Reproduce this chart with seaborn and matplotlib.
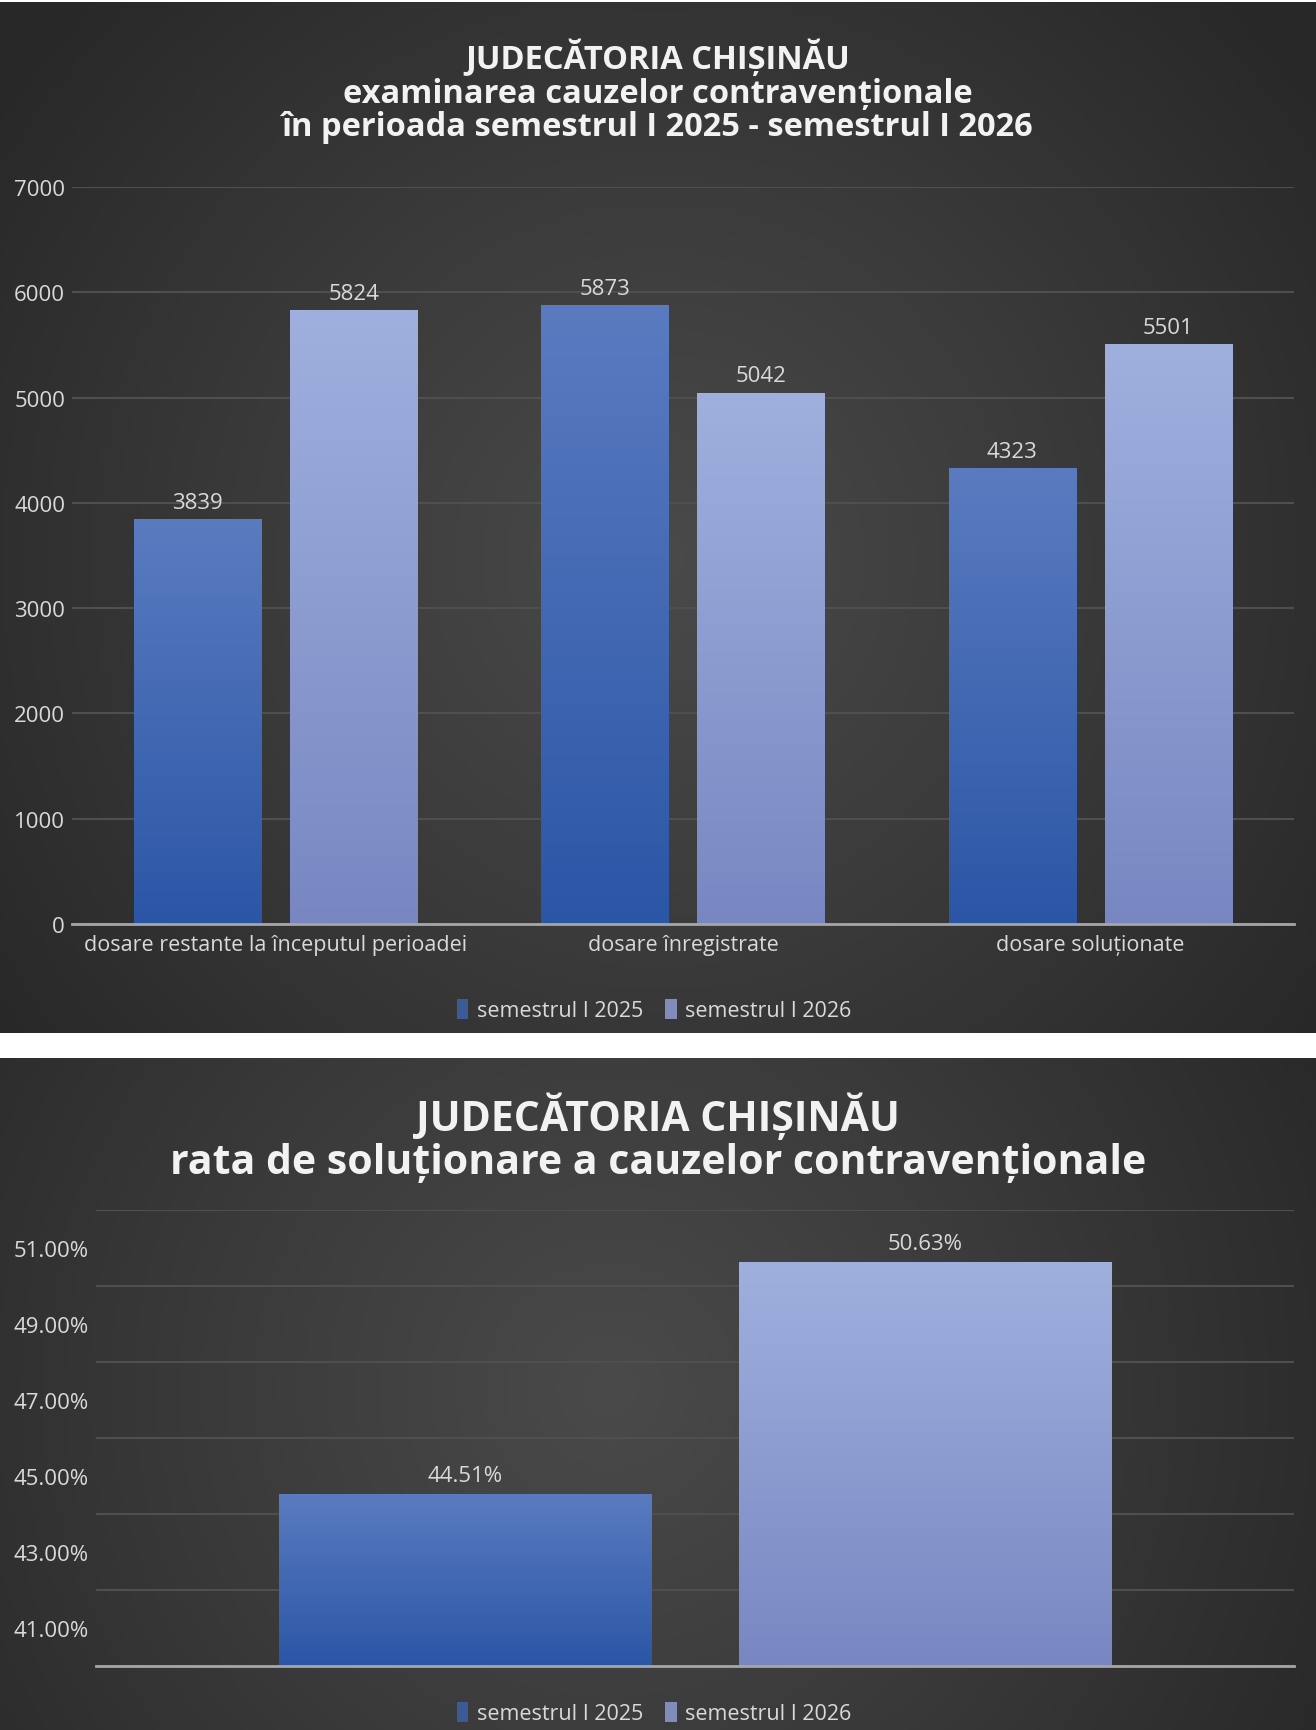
import numpy as np
import pandas as pd
import matplotlib
matplotlib.use("Agg")
import matplotlib.pyplot as plt
from matplotlib.colors import LinearSegmentedColormap
import seaborn as sns

categories = ["dosare restante la începutul perioadei", "dosare înregistrate", "dosare soluționate"]
series = ["semestrul I 2025", "semestrul I 2026"]
values_2025 = [3839, 5873, 4323]
values_2026 = [5824, 5042, 5501]
rate_2025 = 0.4451
rate_2026 = 0.5063

title_top = "JUDECĂTORIA CHIȘINĂU\nexaminarea cauzelor contravenționale\nîn perioada semestrul I 2025 - semestrul I 2026"
title_bottom = "JUDECĂTORIA CHIȘINĂU\nrata de soluționare a cauzelor contravenționale"

sns.set_style("dark")
plt.rcParams["font.family"] = ["Open Sans", "DejaVu Sans"]

W, H = 1316, 1731
fig = plt.figure(figsize=(W / 100, H / 100), dpi=100, facecolor="white")

txt = "#d9d9d9"
grid_c = "#4f4f4f"
base_c = "#a6a6a6"
bar_grad = {
    series[0]: ("#5a7bc0", "#2b56a6"),
    series[1]: ("#9fb0de", "#7887c2"),
}


def panel_bg(y0, y1, cx, cy):
    # radial gradient background for one panel, pixel coords
    ax = fig.add_axes([0, 1 - y1 / H, 1, (y1 - y0) / H], zorder=0)
    xs = np.linspace(0, W, 300)
    ys = np.linspace(y0, y1, 300)
    X, Y = np.meshgrid(xs, ys)
    r = np.clip(np.sqrt((X - cx) ** 2 + (Y - cy) ** 2) / 820, 0, 1)
    cmap = LinearSegmentedColormap.from_list("bg", ["#4a4a4a", "#3a3a3a", "#282828"])
    ax.imshow(r, cmap=cmap, aspect="auto", extent=[0, 1, 0, 1], vmin=0, vmax=1)
    ax.set_axis_off()


def gradient_bars(ax, hue_names):
    xl, yl = ax.get_xlim(), ax.get_ylim()
    for patch, name in zip(ax.patches, hue_names):
        x, w = patch.get_x(), patch.get_width()
        y0 = max(patch.get_y(), yl[0])
        y1 = patch.get_y() + patch.get_height()
        if y1 <= y0:
            continue
        cmap = LinearSegmentedColormap.from_list("b", [bar_grad[name][1], bar_grad[name][0]])
        grad = np.linspace(0, 1, 256).reshape(-1, 1)
        ax.imshow(grad, cmap=cmap, aspect="auto", origin="lower",
                  extent=[x, x + w, y0, y1], zorder=patch.get_zorder() + 0.1)
    ax.set_xlim(xl)
    ax.set_ylim(yl)


panel_bg(3, 1034, 660, 560)
panel_bg(1059, 1731, 610, 1390)

# ---------------- top chart ----------------
df_top = pd.DataFrame({
    "categorie": categories * 2,
    "serie": [series[0]] * 3 + [series[1]] * 3,
    "valoare": values_2025 + values_2026,
})

ax1 = fig.add_axes([72 / W, 1 - 925 / H, (1294 - 72) / W, (925 - 188) / H], zorder=2)
ax1.set_facecolor("none")
sns.barplot(data=df_top, x="categorie", y="valoare", hue="serie",
            palette=[bar_grad[s][1] for s in series], width=0.767, gap=0.185,
            linewidth=0, ax=ax1)
ax1.set_ylim(0, 7000)
ax1.set_yticks(range(0, 7001, 1000))
ax1.yaxis.grid(True, color=grid_c, linewidth=1.5)
ax1.set_axisbelow(True)
gradient_bars(ax1, [series[0]] * 3 + [series[1]] * 3)
for cont in ax1.containers:
    ax1.bar_label(cont, fmt="%d", padding=5, color=txt, fontsize=16)
ax1.set_xlabel("")
ax1.set_ylabel("")
ax1.tick_params(axis="both", length=0, colors=txt, labelsize=16)
ax1.tick_params(axis="x", pad=7, labelsize=15.5)
ax1.tick_params(axis="y", pad=5)
for s in ["top", "right", "left"]:
    ax1.spines[s].set_visible(False)
ax1.spines["bottom"].set_color(base_c)
ax1.spines["bottom"].set_linewidth(2)
h1, l1 = ax1.get_legend_handles_labels()
ax1.get_legend().remove()
fig.legend(h1, l1, loc="center", bbox_to_anchor=(0.497, 1 - 1011 / H), ncol=2,
           frameon=False, handlelength=0.55, handleheight=1.1, handletextpad=0.4,
           columnspacing=1.0, fontsize=15.5, labelcolor=txt)
fig.text(0.5, 1 - 92 / H, title_top, ha="center", va="center", color="#f2f2f2",
         fontsize=23.5, fontweight="bold", linespacing=1.03)

# ---------------- bottom chart ----------------
df_bot = pd.DataFrame({
    "categorie": ["rata"] * 2,
    "serie": series,
    "valoare": [rate_2025, rate_2026],
})

ax2 = fig.add_axes([96 / W, 1 - 1667 / H, (1294 - 96) / W, (1667 - 1211) / H], zorder=2)
ax2.set_facecolor("none")
sns.barplot(data=df_bot, x="categorie", y="valoare", hue="serie",
            palette=[bar_grad[s][1] for s in series], width=0.767, gap=0.19,
            linewidth=0, ax=ax2)
ax2.set_ylim(0.40, 0.52)
major = np.arange(0.41, 0.515, 0.02)
ax2.set_yticks(major)
ax2.set_yticklabels([f"{v * 100:.2f}%" for v in major])
ax2.set_yticks(np.arange(0.40, 0.525, 0.02), minor=True)
ax2.yaxis.grid(True, which="minor", color=grid_c, linewidth=1.5)
ax2.yaxis.grid(False, which="major")
ax2.set_axisbelow(True)
gradient_bars(ax2, series)
for cont in ax2.containers:
    ax2.bar_label(cont, labels=[f"{v * 100:.2f}%" for v in cont.datavalues],
                  padding=6, color=txt, fontsize=16)
ax2.set_xlabel("")
ax2.set_ylabel("")
ax2.set_xticks([])
ax2.tick_params(axis="both", which="both", length=0, colors=txt, labelsize=16)
ax2.tick_params(axis="y", pad=5)
for s in ["top", "right", "left"]:
    ax2.spines[s].set_visible(False)
ax2.spines["bottom"].set_color(base_c)
ax2.spines["bottom"].set_linewidth(2)
h2, l2 = ax2.get_legend_handles_labels()
ax2.get_legend().remove()
fig.legend(h2, l2, loc="center", bbox_to_anchor=(0.497, 1 - 1714 / H), ncol=2,
           frameon=False, handlelength=0.55, handleheight=1.1, handletextpad=0.4,
           columnspacing=1.0, fontsize=15.5, labelcolor=txt)
fig.text(0.5, 1 - 1139 / H, title_bottom, ha="center", va="center", color="#f2f2f2",
         fontsize=29.5, fontweight="bold", linespacing=1.08)

fig.savefig("out.png", dpi=100, facecolor="white")
